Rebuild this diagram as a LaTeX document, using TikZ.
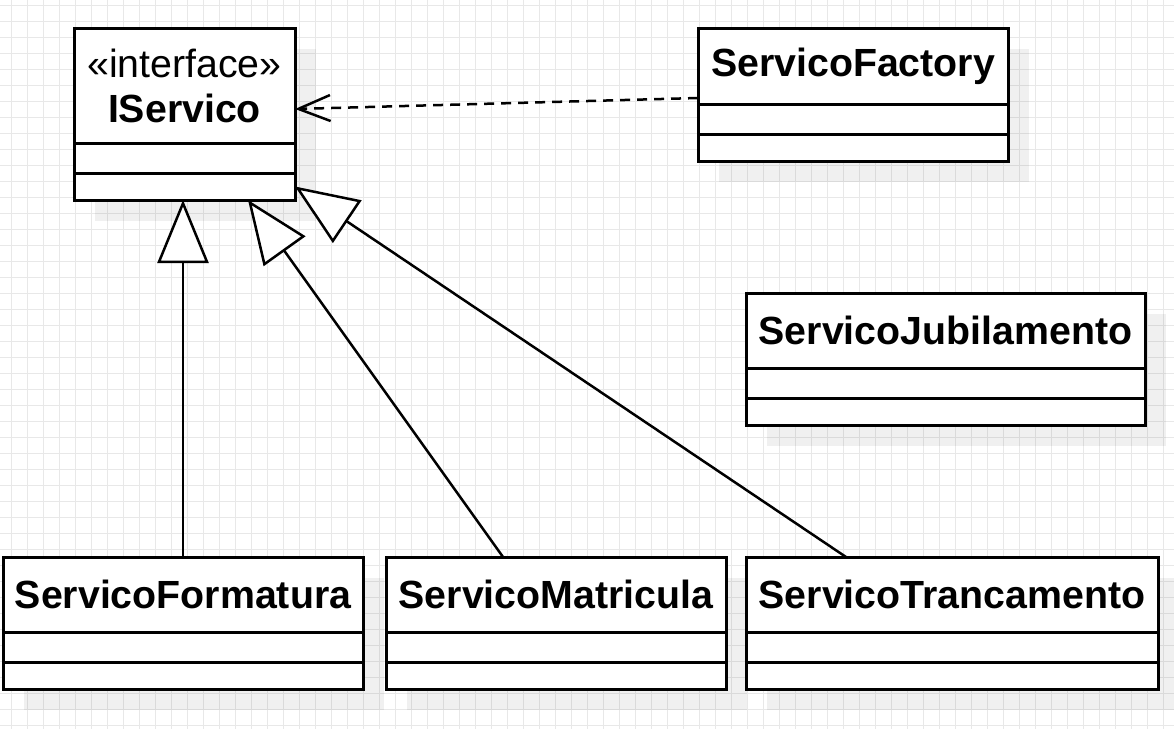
\documentclass[tikz,border=0pt]{standalone}
\usepackage{fontspec}
\setmainfont{Liberation Sans}
\usetikzlibrary{positioning, arrows.meta, shadows}
\tikzstyle{classHead} = [shape=rectangle, draw=black, text=black, line width=3pt,
	align=center, fill=white, inner sep=0pt, outer sep=0pt,
	font=\fontsize{39.3}{45}\selectfont\bfseries,
	drop shadow={shadow xshift=21pt, shadow yshift=-21pt, fill=black, opacity=0.06}]
\tikzstyle{classPart} = [classHead, minimum height=30pt]
\tikzstyle{classLast} = [classHead, minimum height=27pt]
\tikzstyle{inheritArrow} = [line width=2.5pt, -{Triangle[length=63pt, width=51pt, fill=white]}, draw=black]
\tikzstyle{dependArrow} = [line width=2.5pt, dash pattern=on 10pt off 7pt,
	-{Straight Barb[length=32pt, width=26pt]}, draw=black]
\tikzstyle{gridLine} = [draw=black!9, line width=1pt]

\begin{document}
\begin{tikzpicture}[x=1pt, y=-1pt]
  \useasboundingbox (0,0) rectangle (1174,728);
  \begin{scope}
    \clip (0,0) rectangle (1174,728);
    \draw [gridLine, step=16pt, shift={(11.5pt,-5.5pt)}] (-16,740) grid (1180,-16);
  \end{scope}

  \node (ISERV) [classHead, minimum width=221pt, minimum height=115pt] at (184.5,85.5)
    {{\mdseries «interface»}\\IServico};
  \node (ISERVa) [classPart, minimum width=221pt, below=0pt of ISERV] {};
  \node (ISERVb) [classLast, minimum width=221pt, below=0pt of ISERVa] {};

  \node (FACT) [classHead, minimum width=310pt, minimum height=76pt] at (853,66) {ServicoFactory};
  \node (FACTa) [classPart, minimum width=310pt, below=0pt of FACT] {};
  \node (FACTb) [classLast, minimum width=310pt, below=0pt of FACTa] {};

  \node (JUBI) [classHead, minimum width=399pt, minimum height=75pt] at (945.5,330.5) {ServicoJubilamento};
  \node (JUBIa) [classPart, minimum width=399pt, below=0pt of JUBI] {};
  \node (JUBIb) [classLast, minimum width=399pt, below=0pt of JUBIa] {};

  \node (FORM) [classHead, minimum width=360pt, minimum height=75pt] at (183,594.5) {ServicoFormatura};
  \node (FORMa) [classPart, minimum width=360pt, below=0pt of FORM] {};
  \node (FORMb) [classLast, minimum width=360pt, below=0pt of FORMa] {};

  \node (MATR) [classHead, minimum width=340pt, minimum height=75pt] at (556,594.5) {ServicoMatricula};
  \node (MATRa) [classPart, minimum width=340pt, below=0pt of MATR] {};
  \node (MATRb) [classLast, minimum width=340pt, below=0pt of MATRa] {};

  \node (TRANC) [classHead, minimum width=412pt, minimum height=75pt] at (952,594.5) {ServicoTrancamento};
  \node (TRANCa) [classPart, minimum width=412pt, below=0pt of TRANC] {};
  \node (TRANCb) [classLast, minimum width=412pt, below=0pt of TRANCa] {};

  \draw [inheritArrow] (FORM) -- (FORM |- ISERVb.south);
  \draw [inheritArrow] ([xshift=-53pt]MATR.north) -- ([xshift=63.5pt]ISERVb.south);
  \draw [inheritArrow] ([xshift=-106pt]TRANC.north) -- (ISERVb.east);
  \draw [dependArrow] ([yshift=-32pt]FACT.west) -- ([yshift=-23.5pt]ISERV.east);

\end{tikzpicture}
\end{document}
